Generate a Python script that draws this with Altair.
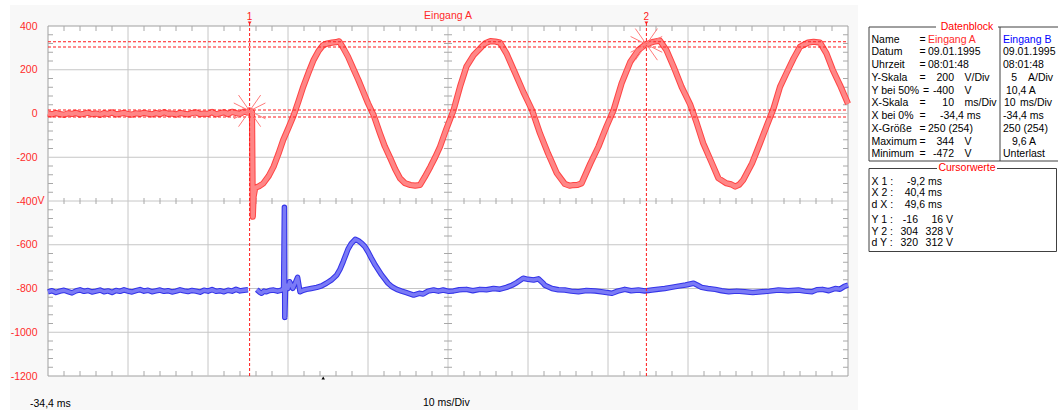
import altair as alt
import pandas as pd

# ---------------- data ----------------
red_t = [-34.4, -33.9, -33.4, -32.9, -32.4, -31.9, -31.4, -30.9, -30.4, -29.9,
         -29.4, -28.9, -28.4, -27.9, -27.4, -26.9, -26.4, -25.9, -25.4, -24.9,
         -24.4, -23.9, -23.4, -22.9, -22.4, -21.9, -21.4, -20.9, -20.4, -19.9,
         -19.4, -18.9, -18.4, -17.9, -17.4, -16.9, -16.4, -15.9, -15.4, -14.9,
         -14.4, -13.9, -13.4, -12.9, -12.4, -11.9, -11.4, -10.9, -10.4, -9.9, -9.4,
         -9.2, -9.0, -8.9, -8.8, -8.7, -8.5, -8.0, -7.5, -6.8, -6.2, -5.6, -5.0,
         -4.3, -3.7, -3.1, -2.5, -1.8, -1.2, -0.6, 0.0, 0.5, 1.1, 1.6, 2.0, 2.5,
         3.1, 3.7, 4.4, 5.0, 5.6, 6.3, 7.1, 7.7, 8.4, 9.0, 9.6, 10.2, 10.9, 11.5,
         12.1, 12.7, 13.4, 14.0, 14.6, 15.4, 16.3, 17.1, 17.9, 18.8, 19.8, 20.3,
         20.9, 21.5, 22.1, 22.9, 24.0, 25.0, 26.1, 27.1, 28.1, 29.2, 30.2, 30.8,
         31.3, 31.8, 32.3, 33.4, 34.4, 35.4, 36.3, 37.3, 38.4, 39.4, 40.2, 40.8,
         41.3, 42.1, 42.9, 43.8, 44.8, 45.9, 46.7, 47.5, 48.6, 49.4, 50.4, 51.0,
         51.5, 52.0, 52.5, 53.6, 54.6, 55.4, 56.3, 57.1, 57.9, 58.8, 59.6, 60.6,
         61.3, 62.1, 62.9, 63.7, 64.6, 65.4, 65.6]
red_v = [0, -4, 2, -3, -6, 1, -2, 3, -5, -1,
         4, -3, 0, -6, 2, -2, 5, -4, -1, 3,
         -3, -5, 1, -2, 4, -1, -4, 2, -3, 6,
         -2, 0, -5, 3, -1, -4, 2, 5, -3, 0,
         -2, 7, -4, 1, 6, -3, 8, 2, -2, 9, 4,
         14, 10, 6, -472, -380, -340, -332, -320, -285, -243, -185, -121,
         -62, -9, 55, 122, 190, 245, 285, 313, 320, 324, 326, 330, 300,
         260, 210, 153, 100, 47, -7, -91, -150, -205, -255, -296, -318, -327, -330,
         -327, -290, -243, -200, -152, -70, 16, 122, 214, 267, 305, 322,
         331, 329, 324, 275, 184, 100, 16, -91, -182, -273, -322, -330,
         -327, -326, -319, -228, -152, -60, 16, 138, 237, 290, 313, 322,
         328, 333, 290, 214, 122, 39, -45, -136, -228, -296, -319, -324,
         -334, -325, -304, -228, -136, -60, 24, 122, 184, 252, 305, 324,
         328, 324, 275, 199, 130, 62, 45]

blue_pre_t = red_t[:51]
blue_pre_v = [-815, -810, -818, -812, -808, -814, -820, -811, -806, -813,
              -809, -816, -812, -807, -815, -811, -818, -809, -813, -806,
              -812, -816, -810, -805, -812, -808, -815, -811, -807, -813,
              -810, -816, -812, -806, -811, -814, -809, -812, -817, -808,
              -812, -805, -813, -810, -815, -808, -812, -804, -811, -808, -806]
blue_post_t = [-8.3, -7.9, -7.7, -7.4, -7.1, -6.7, -6.2, -5.7, -5.2, -4.95, -4.85,
               -4.8, -4.7, -4.6, -4.4, -4.2, -3.8, -3.5, -3.2, -2.9, -2.5, -2.1,
               -1.5, -0.8, -0.2, 0.4, 1.0, 1.7, 2.1, 2.5, 3.1, 3.5, 4.0, 4.4, 4.8,
               5.2, 5.6, 6.0, 6.5, 7.3, 8.1, 8.6, 9.2, 9.8, 10.4, 11.3, 12.0, 12.5,
               13.1, 13.8, 14.4, 15.0, 15.7, 16.3, 17.0, 17.9, 18.7, 19.6, 20.4,
               21.3, 22.1, 22.9, 23.6, 24.2, 25.0, 25.6, 26.3, 26.9, 27.5, 27.7,
               28.6, 29.4, 30.2, 31.0, 31.9, 32.9, 34.0, 35.0, 36.1, 36.8, 37.7,
               38.5, 39.4, 40.2, 41.1, 41.9, 42.7, 43.5, 44.4, 45.3, 46.3, 46.8,
               47.3, 48.1, 49.0, 49.8, 50.7, 51.7, 52.7, 53.7, 54.8, 55.8, 56.9,
               58.1, 59.4, 60.2, 61.1, 61.7, 62.4, 63.2, 64.0, 64.6, 65.2, 65.6]
blue_post_v = [-805, -818, -822, -812, -815, -809, -807, -812, -807, -800, -429,
               -932, -790, -784, -800, -769, -799, -775, -749, -815, -808, -804,
               -800, -795, -788, -776, -762, -738, -712, -677, -620, -595, -575, -582, -593,
               -608, -632, -660, -693, -738, -776, -792, -804, -812, -819, -830, -822, -825,
               -812, -807, -812, -807, -813, -811, -806, -804, -810, -804, -806,
               -800, -803, -795, -785, -773, -753, -758, -761, -756, -776, -785,
               -800, -806, -807, -812, -815, -809, -811, -816, -822, -812, -804,
               -810, -807, -811, -807, -803, -800, -795, -789, -784, -776, -785,
               -795, -800, -804, -810, -815, -812, -815, -818, -815, -812, -807,
               -810, -807, -812, -815, -806, -804, -810, -800, -803, -789, -785]

y_ticks = [400, 200, 0, -200, -400, -600, -800, -1000, -1200]
x_divs = [-34.4, -24.4, -14.4, -4.4, 5.6, 15.6, 25.6, 35.6, 45.6, 55.6, 65.6]
cursor_t = [-9.2, 40.4]
cursor_names = ["1", "2"]
star_v = [12, 316]
hline_v = [-16, 16, 304, 328]
trigger_t = [0.0]

db_labels = ["Name", "Datum", "Uhrzeit", "Y-Skala", "Y bei 50%", "X-Skala",
             "X bei 0%", "X-Größe", "Maximum", "Minimum"]
db_a = ["Eingang A", "09.01.1995", "08:01:48", "200", "-400", "10", "-34,4 ms",
        "250 (254)", "344", "-472"]
db_a_unit = ["", "", "", "V/Div", "V", "ms/Div", "", "", "V", "V"]
db_b = ["Eingang B", "09.01.1995", "08:01:48", "5", "10,4 A", "10", "-34,4 ms",
        "250 (254)", "9,6 A", "Unterlast"]
db_b_unit = ["", "", "", "A/Div", "", "ms/Div", "", "", "", ""]
cw_labels = ["X 1 :", "X 2 :", "d X :", "Y 1 :", "Y 2 :", "d Y :"]
cw_col1 = ["-9,2 ms", "40,4 ms", "49,6 ms", "-16", "304", "320"]
cw_col2 = ["", "", "", "16 V", "328 V", "312 V"]

# ---------------- layout ----------------
W, H = 800, 350
X0, Y0 = 48, 26
FONT = "Liberation Sans"
RED = "#ff2a2a"
xs = alt.Scale(domain=[-34.4, 65.6], nice=False, zero=False)
ys = alt.Scale(domain=[-1200, 400], nice=False, zero=False)
yax = alt.Axis(values=y_ticks, grid=False, ticks=False, tickSize=0, domain=False,
               labelColor=RED, labelFont=FONT, labelFontSize=10.5, labelPadding=11,
               title=None, labelExpr="datum.value + ''", zindex=2)

one = pd.DataFrame({"a": [0]})


def X(field="t"):
    return alt.X(f"{field}:Q", scale=xs, axis=None)


def Y(field="v"):
    return alt.Y(f"{field}:Q", scale=ys, axis=yax)


def prect(x1, x2, y1, y2, **kw):
    return alt.Chart(one).mark_rect(**kw).encode(
        x=alt.value(x1 - X0), x2=alt.value(x2 - X0),
        y=alt.value(y1 - Y0), y2=alt.value(y2 - Y0))


def prule(x1, x2, y1, y2, color="#404040"):
    return alt.Chart(one).mark_rule(color=color, strokeWidth=1).encode(
        x=alt.value(x1 - X0), x2=alt.value(x2 - X0),
        y=alt.value(y1 - Y0), y2=alt.value(y2 - Y0))


def txt(s, xa, ya, color="black", align="left", size=10.5):
    return alt.Chart(one).mark_text(text=s, align=align, baseline="middle", font=FONT,
                                    fontSize=size, color=color).encode(
        x=alt.value(xa - X0), y=alt.value(ya - Y0))


layers = []
# backgrounds
layers.append(prect(10, 858, 5, 410, fill="#f8f8f8"))
layers.append(prect(X0, X0 + W, Y0, Y0 + H, fill="white", stroke="#a0a0a0", strokeWidth=1))

# grid
grid_x = pd.DataFrame({"t": x_divs[1:-1]})
grid_y = pd.DataFrame({"v": y_ticks[1:-1]})
GRID = "#c6c6c6"
layers.append(alt.Chart(grid_x).mark_rule(color=GRID, strokeWidth=1).encode(
    x=X(), y=alt.value(0), y2=alt.value(H)))
layers.append(alt.Chart(grid_y).mark_rule(color=GRID, strokeWidth=1).encode(
    y=Y(), x=alt.value(0), x2=alt.value(W)))

# minor ticks
minor_t = pd.DataFrame({"t": [round(-34.4 + 2 * k, 1) for k in range(1, 50) if k % 5 != 0]})
minor_v = pd.DataFrame({"v": [400 - 40 * k for k in range(1, 40) if k % 5 != 0]})
TK = "#a8a8a8"
for (a, b) in [(0, 5), (H - 5, H), (172, 178)]:
    layers.append(alt.Chart(minor_t).mark_rule(color=TK, strokeWidth=1).encode(
        x=X(), y=alt.value(a), y2=alt.value(b)))
for (a, b) in [(0, 5), (W - 5, W), (396, 404)]:
    layers.append(alt.Chart(minor_v).mark_rule(color=TK, strokeWidth=1).encode(
        y=Y(), x=alt.value(a), x2=alt.value(b)))

# signals
red_df = pd.DataFrame({"t": red_t, "v": red_v})
blue_df = pd.DataFrame({
    "t": blue_pre_t + blue_post_t,
    "v": blue_pre_v + blue_post_v,
    "seg": ["a"] * len(blue_pre_t) + ["b"] * len(blue_post_t)})
layers.append(alt.Chart(blue_df).mark_line(color="#3434e8", strokeWidth=5.5, strokeJoin="round").encode(
    x=X(), y=Y(), detail="seg:N"))
layers.append(alt.Chart(blue_df).mark_line(color="#7a7af6", strokeWidth=3.4, strokeJoin="round").encode(
    x=X(), y=Y(), detail="seg:N"))
layers.append(alt.Chart(red_df).mark_line(color="#ff4444", strokeWidth=6.2, strokeJoin="round").encode(
    x=X(), y=Y()))
layers.append(alt.Chart(red_df).mark_line(color="#ff8686", strokeWidth=4.2, strokeJoin="round").encode(
    x=X(), y=Y()))

# cursors
cur_df = pd.DataFrame({"t": cursor_t, "v": star_v, "name": cursor_names})
hl_df = pd.DataFrame({"v": hline_v})
layers.append(alt.Chart(hl_df).mark_rule(color="#ff1a1a", strokeWidth=1, strokeDash=[3, 2]).encode(
    y=Y(), x=alt.value(0), x2=alt.value(W)))
layers.append(alt.Chart(cur_df).mark_rule(color="#ff1a1a", strokeWidth=1, strokeDash=[3, 2]).encode(
    x=X(), y=alt.value(-3), y2=alt.value(H)))
layers.append(alt.Chart(cur_df).mark_point(shape="triangle-down", filled=True, color="#ff1a1a",
                                           size=14, opacity=1).encode(x=X(), y=alt.value(-3)))
layers.append(alt.Chart(cur_df).mark_text(font=FONT, fontSize=10, color="#ff1a1a",
                                          baseline="middle", align="center").encode(
    x=X(), y=alt.value(-9), text="name:N"))
STAR = "M-0.7,-1L0.7,1M-0.7,1L0.7,-1M-1,-0.5L1,0.5M-1,0.5L1,-0.5"
layers.append(alt.Chart(cur_df).mark_point(shape=STAR, filled=False, color="#ff7a7a",
                                           strokeWidth=1, size=1000, opacity=1).encode(
    x=X(), y=Y()))
# trigger marker
layers.append(alt.Chart(pd.DataFrame({"t": trigger_t})).mark_point(
    shape="triangle-up", filled=True, color="black", size=12, opacity=1).encode(
    x=X(), y=alt.value(H + 2)))

# texts on the scope
layers.append(txt("Eingang A", 448, 16, RED, "center"))
layers.append(txt("V", 37.5, 201, RED))
layers.append(txt("-34,4 ms", 30, 404))
layers.append(txt("10 ms/Div", 423, 403))

# Datenblock panel
layers.append(prect(869, 1075, 27, 161, fillOpacity=0, stroke="#404040", strokeWidth=1))
layers.append(prule(1000, 1000, 27, 161))
layers.append(prect(936, 998, 21, 33, fill="white"))
layers.append(txt("Datenblock", 967, 26.5, "#ff0000", "center"))
row_y = [39.5 + 12.75 * i for i in range(len(db_labels))]
num_rows = {3, 4, 5, 8, 9}
for i, lab in enumerate(db_labels):
    y = row_y[i]
    layers.append(txt(lab, 871.5, y))
    layers.append(txt("=", 923 if i == 4 else 919.5, y))
    if i in num_rows:
        layers.append(txt(db_a[i], 954, y, align="right"))
        layers.append(txt(db_a_unit[i], 964.5, y))
    elif i == 6:
        layers.append(txt(db_a[i], 940, y))
    else:
        layers.append(txt(db_a[i], 928, y, RED if i == 0 else "black"))
    # column B
    if i == 3:
        layers.append(txt(db_b[i], 1017, y, align="right"))
        layers.append(txt(db_b_unit[i], 1028, y))
    elif i == 5:
        layers.append(txt(db_b[i], 1004, y))
        layers.append(txt(db_b_unit[i], 1020, y))
    elif i == 4:
        layers.append(txt(db_b[i], 1006, y))
    elif i == 8:
        layers.append(txt(db_b[i], 1012, y))
    else:
        layers.append(txt(db_b[i], 1003, y, "#0000ff" if i == 0 else "black"))

# Cursorwerte panel
layers.append(prect(869, 1056.5, 168.5, 251.5, fillOpacity=0, stroke="#404040", strokeWidth=1))
layers.append(prect(937, 997, 162, 174, fill="white"))
layers.append(txt("Cursorwerte", 967, 168, "#ff0000", "center"))
cw_y = [181.7, 193.3, 205, 220, 231.7, 243.3]
for i, lab in enumerate(cw_labels):
    y = cw_y[i]
    layers.append(txt(lab, 871.5, y))
    if i < 3:
        layers.append(txt(cw_col1[i], 942, y, align="right"))
    else:
        layers.append(txt(cw_col1[i], 918, y, align="right"))
        layers.append(txt(cw_col2[i], 953, y, align="right"))

chart = alt.layer(*layers).properties(
    width=W, height=H,
    padding={"left": X0, "top": Y0, "right": 1058 - X0 - W, "bottom": 410 - Y0 - H},
    autosize="none", background="white",
).configure_view(stroke=None)

chart.save("out.html", embed_options={"renderer": "svg", "actions": False})
